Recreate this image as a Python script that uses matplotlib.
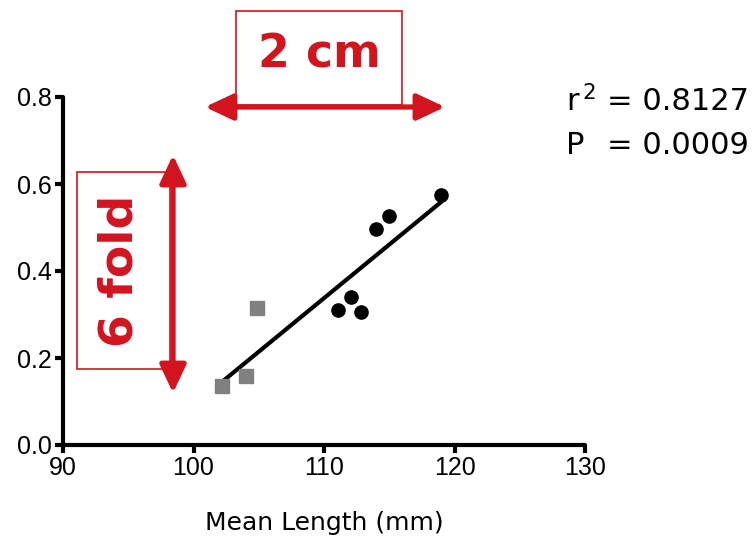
import numpy as np
import matplotlib
matplotlib.use("Agg")
import matplotlib.pyplot as plt
from matplotlib.patches import FancyArrowPatch, Rectangle

# data
sq_x = [102.2, 104.0, 104.9]
sq_y = [0.136, 0.159, 0.315]
ci_x = [111.1, 112.1, 112.8, 114.0, 115.0, 119.0]
ci_y = [0.310, 0.340, 0.306, 0.497, 0.526, 0.575]
x_ticks = [90, 100, 110, 120, 130]
y_ticks = [0.0, 0.2, 0.4, 0.6, 0.8]
x_label = "Mean Length (mm)"
stat_names = ["r$^{\\,2}$", "P"]
stat_values = ["= 0.8127", "= 0.0009"]

W, H = 755, 540
fig = plt.figure(figsize=(W / 100, H / 100), dpi=100)
ax = fig.add_axes([63 / W, 1 - 445 / H, (585 - 63) / W, (445 - 97) / H])

all_x = np.array(sq_x + ci_x)
all_y = np.array(sq_y + ci_y)
slope, icpt = np.polyfit(all_x, all_y, 1)
lx = np.array([all_x.min(), all_x.max()])
ax.plot(lx, slope * lx + icpt, color="black", lw=3, solid_capstyle="round", zorder=2)
ax.plot(sq_x, sq_y, ls="none", marker="s", ms=9.5, color="#808080", mec="#808080", zorder=3)
ax.plot(ci_x, ci_y, ls="none", marker="o", ms=9.5, color="black", zorder=3)

ax.set_xlim(90, 130)
ax.set_ylim(0, 0.8)
ax.set_xticks(x_ticks)
ax.set_yticks(y_ticks)
ax.set_xticklabels([str(v) for v in x_ticks], family="Liberation Sans", fontsize=18)
ax.set_yticklabels([f"{v:.1f}" for v in y_ticks], family="Liberation Sans", fontsize=18)
for s in ["top", "right"]:
    ax.spines[s].set_visible(False)
for s in ["left", "bottom"]:
    ax.spines[s].set_linewidth(3)
    ax.spines[s].set_capstyle("round")
ax.tick_params(direction="out", length=6, width=3, pad=2)
ax.set_xlabel(x_label, fontsize=18, family="DejaVu Sans", labelpad=22)
ax.patch.set_alpha(0)

red = "#D2141F"
tf = fig.transFigure

def P(x, y):
    return (x / W, 1 - y / H)

# 2 cm box
x0, y0 = P(236, 105)
x1, y1 = P(402, 11)
fig.patches.append(Rectangle((x0, y0), x1 - x0, y1 - y0, transform=tf, fill=False,
                             ec=red, lw=1.2, zorder=1))
fig.text((x0 + x1) / 2, P(0, 55)[1], "2 cm", color=red, fontsize=33, weight="bold",
         family="DejaVu Sans", ha="center", va="center")
fig.patches.append(FancyArrowPatch(P(205, 107), P(445, 107), transform=tf,
                                   arrowstyle="<|-|>,head_length=17,head_width=8",
                                   mutation_scale=1, color=red, lw=3.8, shrinkA=0, shrinkB=0))

# 6 fold box
x0, y0 = P(77, 369)
x1, y1 = P(170, 172)
fig.patches.append(Rectangle((x0, y0), x1 - x0, y1 - y0, transform=tf, fill=False,
                             ec=red, lw=1.2, zorder=1))
fig.text(P(120, 0)[0], (y0 + y1) / 2, "6 fold", color=red, fontsize=34, weight="bold",
         family="DejaVu Sans", ha="center", va="center", rotation=90)
fig.patches.append(FancyArrowPatch(P(173, 393), P(173, 155), transform=tf,
                                   arrowstyle="<|-|>,head_length=17,head_width=8",
                                   mutation_scale=1, color=red, lw=3.8, shrinkA=0, shrinkB=0))

# stats
for i, (nm, val) in enumerate(zip(stat_names, stat_values)):
    yy = P(0, 101 + 44 * i)[1]
    fig.text(P(566, 0)[0], yy, nm, fontsize=22, family="DejaVu Sans", ha="left", va="center")
    fig.text(P(749, 0)[0], yy, val, fontsize=22, family="DejaVu Sans", ha="right", va="center")

fig.savefig("out.png", dpi=100)
